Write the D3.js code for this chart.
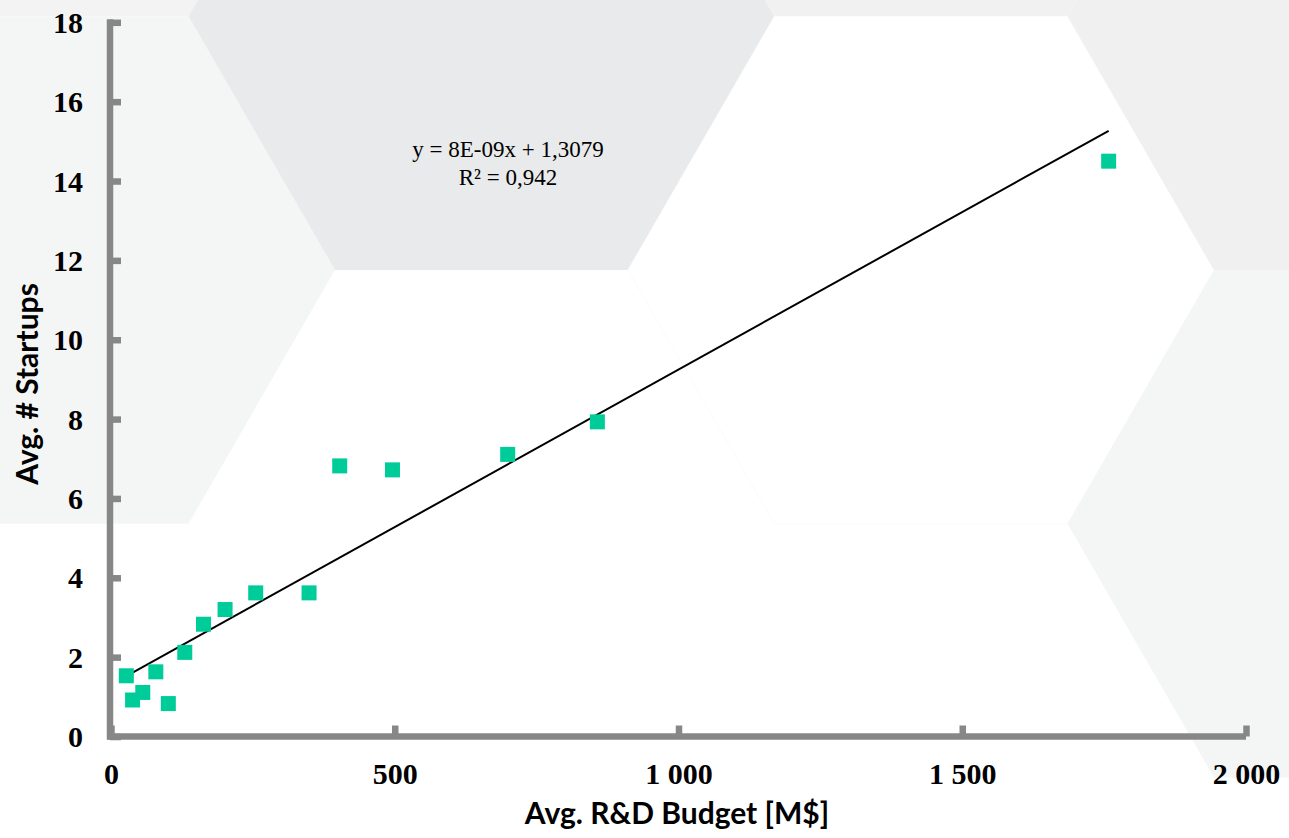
<!DOCTYPE html>
<html lang="en">
<head>
  <meta charset="UTF-8">
  <title>Avg. R&D Budget vs Avg. # Startups</title>
  <script src="https://d3js.org/d3.v7.min.js"></script>
  <style>
    body { margin: 0; background: #fff; }
  </style>
</head>
<body>
  <svg id="chart" width="1289" height="838"></svg>

  <script>
    // data
    const budget   = [27, 38, 56, 79, 101, 130, 163, 201, 255, 349, 403, 496, 699, 857, 1758];
    const startups = [1.53, 0.92, 1.11, 1.63, 0.83, 2.12, 2.83, 3.2, 3.62, 3.62, 6.82, 6.72, 7.11, 7.93, 14.5];

    const xTicks = [0, 500, 1000, 1500, 2000];
    const yTicks = [0, 2, 4, 6, 8, 10, 12, 14, 16, 18];

    // linear trend shown on the chart (per M$)
    const trendSlope = 0.00794;
    const trendIntercept = 1.3079;
    const equationLines = ["y = 8E-09x + 1,3079", "R² = 0,942"];

    const svg = d3.select("#chart");

    // decorative honeycomb in the background
    const side = 293;
    const hexH = side * Math.sqrt(3) / 2;
    const hexCells = [
      { col: -1, row: -1, fill: "#f2f3f2" },
      { col: -1, row: 0,  fill: "#f4f6f5" },
      { col: 0,  row: 0,  fill: "#e9eaeb" },
      { col: 1,  row: -1, fill: "#f0f1f0" },
      { col: 1,  row: 0,  fill: "#ffffff" },
      { col: 2,  row: 0,  fill: "#eff0ef" },
      { col: 2,  row: 1,  fill: "#f4f6f5" }
    ];
    // flat-topped hexes; odd columns shifted down by half a hex
    const hexCenter = c => {
      const odd = Math.abs(c.col) % 2 === 1;
      return [481.5 + c.col * 1.5 * side, 16.3 + (odd ? hexH : 0) + c.row * 2 * hexH];
    };
    const hexPath = ([cx, cy]) => {
      const pts = d3.range(6).map(i => {
        const a = Math.PI / 3 * i;
        return [cx + side * Math.cos(a), cy + side * Math.sin(a)];
      });
      return "M" + pts.join("L") + "Z";
    };
    svg.append("g")
      .selectAll("path")
      .data(hexCells)
      .join("path")
      .attr("d", d => hexPath(hexCenter(d)))
      .attr("fill", d => d.fill)
      .attr("stroke", d => d.fill === "#ffffff" ? "#fbfbfb" : "none")
      .attr("stroke-width", 1);

    const x = d3.scaleLinear().domain([0, 2000]).range([111, 1246]);
    const y = d3.scaleLinear().domain([0, 18]).range([736.5, 22.3]);

    const loc = d3.formatLocale({ decimal: ",", thousands: " ", grouping: [3], currency: ["", "$"] });
    const fmt = loc.format(",d");

    const axisColor = "#878787";
    const tickFont = "'Liberation Serif', 'Times New Roman', serif";

    // y axis
    const yAxis = svg.append("g")
      .attr("transform", `translate(${x(0) - 1},0)`)
      .call(d3.axisLeft(y).tickValues(yTicks).tickSize(-11).tickSizeOuter(0).tickPadding(27));
    // x axis
    const xAxis = svg.append("g")
      .attr("transform", `translate(0,${y(0)})`)
      .call(d3.axisBottom(x).tickValues(xTicks).tickFormat(fmt).tickSize(-11).tickSizeOuter(0));

    [yAxis, xAxis].forEach(g => {
      g.select(".domain").attr("stroke", axisColor).attr("stroke-width", 6.5);
      g.selectAll(".tick line").attr("stroke", axisColor).attr("stroke-width", 6.5);
      g.selectAll("text")
        .attr("fill", "#000")
        .style("font-family", tickFont)
        .style("font-weight", "bold")
        .style("font-size", "30px");
    });
    yAxis.select(".domain").attr("d", `M0,${y(0) + 3}V${y(18) - 3}`);
    xAxis.select(".domain").attr("d", `M${x(0) - 4},0H${x(2000)}`);
    yAxis.selectAll("text").attr("dy", "0.34em");
    xAxis.selectAll("text").attr("y", 47).attr("dy", 0);

    // trend line
    const [xMin, xMax] = d3.extent(budget);
    svg.append("line")
      .attr("x1", x(xMin)).attr("y1", y(trendIntercept + trendSlope * xMin))
      .attr("x2", x(xMax)).attr("y2", y(trendIntercept + trendSlope * xMax))
      .attr("stroke", "#000")
      .attr("stroke-width", 2);

    // points
    const size = 15;
    svg.append("g")
      .selectAll("rect")
      .data(budget.map((b, i) => ({ b, s: startups[i] })))
      .join("rect")
      .attr("x", d => x(d.b) - size / 2)
      .attr("y", d => y(d.s) - size / 2)
      .attr("width", size)
      .attr("height", size)
      .attr("fill", "#00cc99");

    // equation label
    svg.append("text")
      .attr("text-anchor", "middle")
      .style("font-family", tickFont)
      .style("font-size", "23px")
      .attr("fill", "#000")
      .selectAll("tspan")
      .data(equationLines)
      .join("tspan")
      .attr("x", 508)
      .attr("y", (d, i) => 157 + i * 28.3)
      .text(d => d);

    // axis titles
    const titleFont = "Lato, 'Open Sans', sans-serif";
    svg.append("text")
      .attr("x", 677)
      .attr("y", 824)
      .attr("text-anchor", "middle")
      .style("font-family", titleFont)
      .style("font-weight", "bold")
      .style("font-size", "30px")
      .text("Avg. R&D Budget [M$]");

    svg.append("text")
      .attr("transform", "translate(38,384) rotate(-90)")
      .attr("text-anchor", "middle")
      .style("font-family", titleFont)
      .style("font-weight", "bold")
      .style("font-size", "30px")
      .text("Avg. # Startups");
  </script>
</body>
</html>
